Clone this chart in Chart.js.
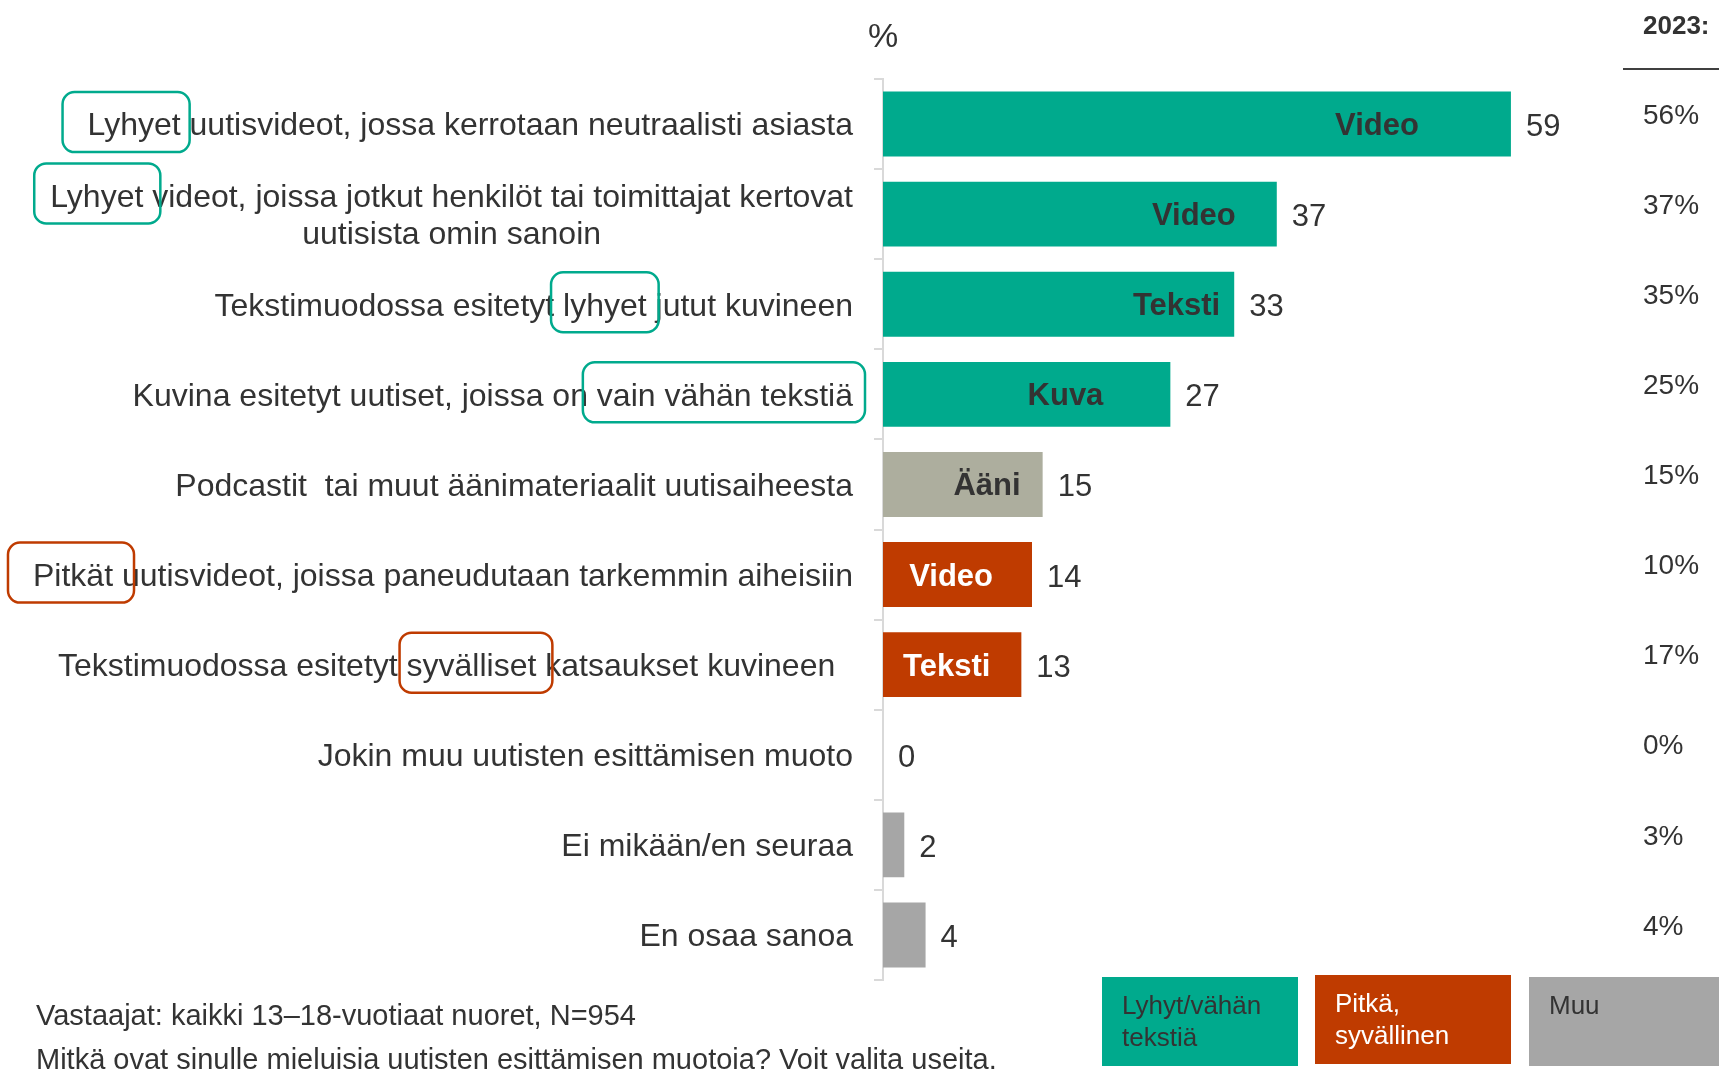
<!DOCTYPE html>
<html lang="fi">
<head>
<meta charset="utf-8">
<title>Mieluisat uutisten esittämisen muodot</title>
<script src="https://cdn.jsdelivr.net/npm/chart.js@4"></script>
<style>
  html, body { margin: 0; padding: 0; background: #fff; }
  #wrap { position: relative; width: 1719px; height: 1069px; overflow: hidden; }
</style>
</head>
<body>
<div id="wrap"><canvas id="muodotChart" width="1719" height="1069"></canvas></div>
<script>
// Kategoriat (rivit voivat olla monirivisiä)
const kategoriat = [
  ["Lyhyet uutisvideot, jossa kerrotaan neutraalisti asiasta"],
  ["Lyhyet videot, joissa jotkut henkilöt tai toimittajat kertovat", "uutisista omin sanoin"],
  ["Tekstimuodossa esitetyt lyhyet jutut kuvineen"],
  ["Kuvina esitetyt uutiset, joissa on vain vähän tekstiä"],
  ["Podcastit  tai muut äänimateriaalit uutisaiheesta"],
  ["Pitkät uutisvideot, joissa paneudutaan tarkemmin aiheisiin"],
  ["Tekstimuodossa esitetyt syvälliset katsaukset kuvineen  "],
  ["Jokin muu uutisten esittämisen muoto"],
  ["Ei mikään/en seuraa"],
  ["En osaa sanoa"]
];
const osuudet = [59, 37, 33, 27, 15, 14, 13, 0, 2, 4];
const osuudet2023 = [56, 37, 35, 25, 15, 10, 17, 0, 3, 4];
const muodot = ["Video", "Video", "Teksti", "Kuva", "Ääni", "Video", "Teksti", "", "", ""];
const ryhmat = ["lyhyt", "lyhyt", "lyhyt", "lyhyt", "aani", "pitka", "pitka", "muu", "muu", "muu"];
const selitteet = [
  { ryhma: "lyhyt", rivit: ["Lyhyt/vähän", "tekstiä"] },
  { ryhma: "pitka", rivit: ["Pitkä,", "syvällinen"] },
  { ryhma: "muu", rivit: ["Muu"] }
];
const alaviitteet = [
  "Vastaajat: kaikki 13–18-vuotiaat nuoret, N=954",
  "Mitkä ovat sinulle mieluisia uutisten esittämisen muotoja? Voit valita useita."
];

// tyylit
const varit = { lyhyt: "#00aa8d", pitka: "#bf3b00", aani: "#adae9e", muu: "#a6a6a6" };
const tekstiVari = "#333333";
const fontti = '"Liberation Sans", Arial, sans-serif';
const dy = 2.5; // tekstin pystysiirto
// muotonimen oikean reunan etäisyys palkin päästä (px)
const muotoVali = [92, 41, 14, 67, 22, 39, 31];
// kehystetyt sanat selitteissä
const korostukset = [
  { rivi: 0, osa: 0, sana: "Lyhyet", vasen: 25, oikea: 9, ryhma: "lyhyt" },
  { rivi: 1, osa: 0, sana: "Lyhyet", vasen: 16, oikea: 17, ryhma: "lyhyt" },
  { rivi: 2, osa: 0, sana: "lyhyet", vasen: 12, oikea: 12, ryhma: "lyhyt" },
  { rivi: 3, osa: 0, sana: "vain vähän tekstiä", vasen: 14, oikea: 12, ryhma: "lyhyt" },
  { rivi: 5, osa: 0, sana: "Pitkät", vasen: 25, oikea: 21, ryhma: "pitka" },
  { rivi: 6, osa: 0, sana: "syvälliset", vasen: 7, oikea: 16, ryhma: "pitka" }
];

function pyoreaLaatikko(ctx, x, y, w, h, r) {
  ctx.beginPath();
  ctx.moveTo(x + r, y);
  ctx.arcTo(x + w, y, x + w, y + h, r);
  ctx.arcTo(x + w, y + h, x, y + h, r);
  ctx.arcTo(x, y + h, x, y, r);
  ctx.arcTo(x, y, x + w, y, r);
  ctx.closePath();
}

const tekstiPlugin = {
  id: "tekstit",
  afterDraw(chart) {
    const ctx = chart.ctx;
    const meta = chart.getDatasetMeta(0);
    const labelOikea = 853;
    ctx.save();

    // kategorioiden selitteet ja kehykset
    ctx.fillStyle = tekstiVari;
    ctx.font = "32px " + fontti;
    ctx.textBaseline = "middle";
    const riviKeskit = [];
    kategoriat.forEach((rivit, i) => {
      const yc = meta.data[i].y;
      const leveys0 = ctx.measureText(rivit[0]).width;
      const keski = labelOikea - leveys0 / 2;
      const pos = [];
      rivit.forEach((teksti, j) => {
        const yy = yc + (j - (rivit.length - 1) / 2) * 37.5;
        const w = ctx.measureText(teksti).width;
        const alku = j === 0 ? labelOikea - w : keski - w / 2;
        ctx.textAlign = "left";
        ctx.fillText(teksti, alku, yy + dy);
        pos.push({ alku: alku, y: yy });
      });
      riviKeskit.push(pos);
    });
    korostukset.forEach(k => {
      const teksti = kategoriat[k.rivi][k.osa];
      const p = riviKeskit[k.rivi][k.osa];
      const idx = teksti.indexOf(k.sana);
      const x0 = p.alku + ctx.measureText(teksti.slice(0, idx)).width - k.vasen;
      const x1 = p.alku + ctx.measureText(teksti.slice(0, idx) + k.sana).width + k.oikea;
      ctx.strokeStyle = varit[k.ryhma];
      ctx.lineWidth = 2.5;
      pyoreaLaatikko(ctx, x0, p.y - 32, x1 - x0, 60, 12);
      ctx.stroke();
    });

    // arvot ja muotonimet
    meta.data.forEach((bar, i) => {
      ctx.font = "31px " + fontti;
      ctx.fillStyle = tekstiVari;
      ctx.textAlign = "left";
      ctx.fillText(String(osuudet[i]), bar.x + 15, bar.y + 1 + dy);
      if (muodot[i]) {
        ctx.font = "bold 31px " + fontti;
        ctx.fillStyle = ryhmat[i] === "pitka" ? "#ffffff" : tekstiVari;
        ctx.textAlign = "right";
        ctx.fillText(muodot[i], bar.x - muotoVali[i], bar.y + dy);
      }
      ctx.font = "28px " + fontti;
      ctx.fillStyle = tekstiVari;
      ctx.textAlign = "left";
      ctx.fillText(osuudet2023[i] + "%", 1643, bar.y - 8);
    });

    // otsikot
    ctx.font = "34px " + fontti;
    ctx.textAlign = "center";
    ctx.fillText("%", chart.chartArea.left, 38);
    ctx.font = "bold 26px " + fontti;
    ctx.textAlign = "left";
    ctx.textBaseline = "alphabetic";
    ctx.fillText("2023:", 1643, 34);
    ctx.strokeStyle = "#404040";
    ctx.lineWidth = 2;
    ctx.beginPath();
    ctx.moveTo(1623, 69);
    ctx.lineTo(1719, 69);
    ctx.stroke();

    // selitelaatikot
    const laatikot = [
      { x: 1102, y: 977, w: 196, h: 89 },
      { x: 1315, y: 975, w: 196, h: 89 },
      { x: 1529, y: 977, w: 190, h: 89 }
    ];
    ctx.font = "26px " + fontti;
    selitteet.forEach((s, i) => {
      const b = laatikot[i];
      ctx.fillStyle = varit[s.ryhma];
      ctx.fillRect(b.x, b.y, b.w, b.h);
      ctx.fillStyle = s.ryhma === "pitka" ? "#ffffff" : tekstiVari;
      s.rivit.forEach((r, j) => ctx.fillText(r, b.x + 20, b.y + 37 + j * 32));
    });

    // alaviitteet
    ctx.font = "29px " + fontti;
    ctx.fillStyle = tekstiVari;
    alaviitteet.forEach((t, j) => ctx.fillText(t, 36, 1025 + j * 44));
    ctx.restore();
  }
};

document.addEventListener("DOMContentLoaded", () => {
  const ctx = document.getElementById("muodotChart").getContext("2d");
  new Chart(ctx, {
    type: "bar",
    data: {
      labels: kategoriat.map(k => k.join(" ")),
      datasets: [{
        data: osuudet,
        backgroundColor: ryhmat.map(r => varit[r]),
        barPercentage: 0.72,
        categoryPercentage: 1
      }]
    },
    options: {
      indexAxis: "y",
      responsive: false,
      animation: false,
      layout: { padding: { top: 79, bottom: 89, left: 0, right: 91 } },
      plugins: {
        legend: { display: false },
        tooltip: { enabled: false }
      },
      scales: {
        x: { display: false, min: 0, max: 70 },
        y: {
          afterFit: s => { s.width = 883; },
          ticks: { display: false },
          grid: { drawOnChartArea: false, color: "#d9d9d9", lineWidth: 2, tickLength: 9, offset: true },
          border: { color: "#d9d9d9", width: 2 }
        }
      }
    },
    plugins: [tekstiPlugin]
  });
});
</script>
</body>
</html>
